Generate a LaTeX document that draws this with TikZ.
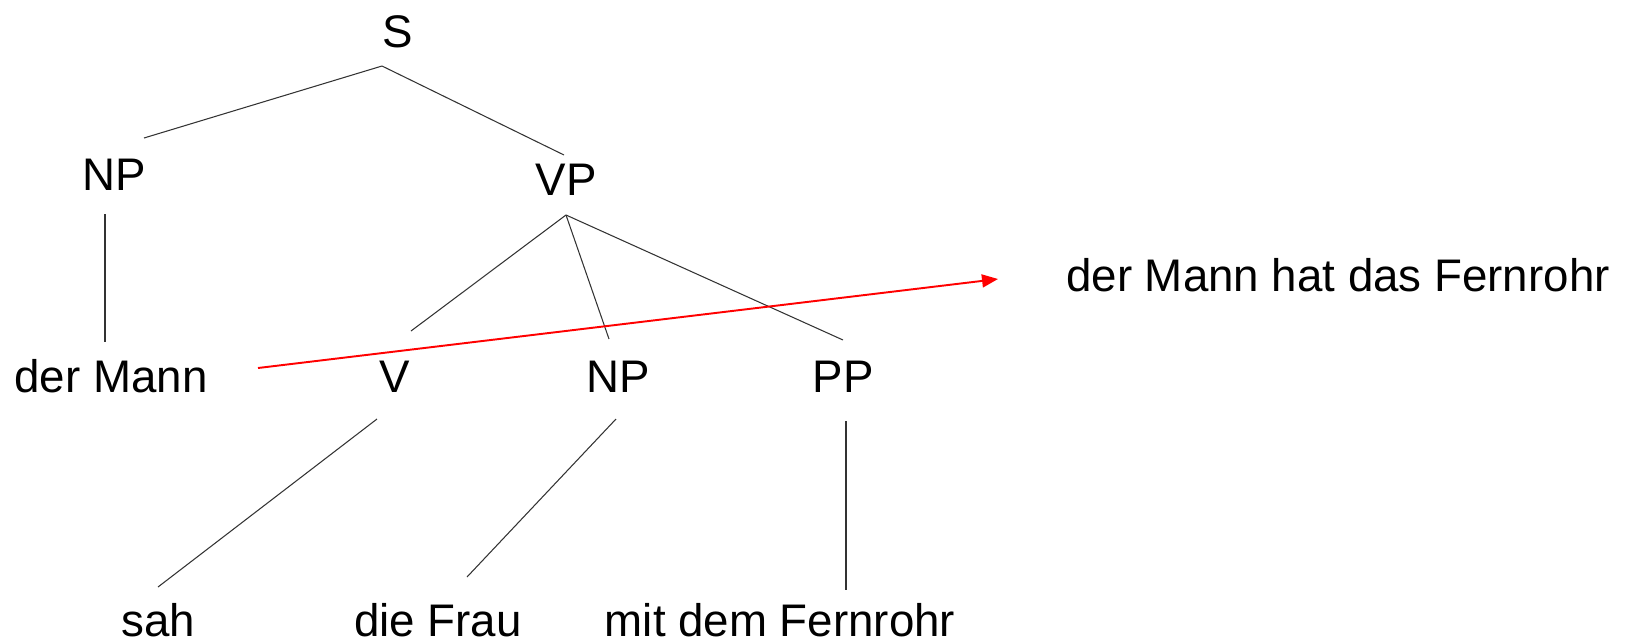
\documentclass[tikz,border=0pt]{standalone}
\usepackage{fontspec}
\setmainfont{Liberation Sans}
\usetikzlibrary{arrows.meta}

\begin{document}
\begin{tikzpicture}[x=0.02cm, y=-0.02cm,
	cat/.style={anchor=base, inner sep=0pt, text depth=0pt, font=\fontsize{26}{30}\selectfont},
	branch/.style={draw=black!80, line width=0.6pt},
	reading/.style={draw=red, line width=1.1pt, -{Triangle[length=0.32cm,width=0.26cm]}}]
	\useasboundingbox (0,0) rectangle (1652,643);

	% categories and words
	\node[cat] (S) at (398,47) {S};
	\node[cat] (NPa) at (114,190) {NP};
	\node[cat] (VP) at (566,195) {VP};
	\node[cat] (Mann) at (111,392) {der Mann};
	\node[cat] (V) at (395,392) {V};
	\node[cat] (NPb) at (618,392) {NP};
	\node[cat] (PP) at (843,392) {PP};
	\node[cat] (sah) at (158,636) {sah};
	\node[cat] (Frau) at (438,636) {die Frau};
	\node[cat] (Fernrohr) at (780,636) {mit dem Fernrohr};
	\node[cat] (lesart) at (1338,291) {der Mann hat das Fernrohr};

	% where the branches meet the labels
	\coordinate (S-foot) at (382,66);
	\coordinate (NPa-head) at (144,138);
	\coordinate (VP-head) at (564,155);
	\coordinate (NPa-foot) at (105,214);
	\coordinate (Mann-head) at (105,342);
	\coordinate (VP-foot) at (566,215);
	\coordinate (V-head) at (411,331);
	\coordinate (NPb-head) at (609,339);
	\coordinate (PP-head) at (843,340);
	\coordinate (V-foot) at (377,419);
	\coordinate (sah-head) at (158,587);
	\coordinate (NPb-foot) at (616,419);
	\coordinate (Frau-head) at (467,577);
	\coordinate (PP-foot) at (846,421);
	\coordinate (Fernrohr-head) at (846,590);
	\coordinate (Mann-tail) at (258,368);
	\coordinate (lesart-tip) at (998,279);

	\path[branch]
		(S-foot) edge (NPa-head)
		(S-foot) edge (VP-head)
		(NPa-foot) edge (Mann-head)
		(VP-foot) edge (V-head)
		(VP-foot) edge (NPb-head)
		(VP-foot) edge (PP-head)
		(V-foot) edge (sah-head)
		(NPb-foot) edge (Frau-head)
		(PP-foot) edge (Fernrohr-head);

	\draw[reading] (Mann-tail) -- (lesart-tip);
\end{tikzpicture}
\end{document}
